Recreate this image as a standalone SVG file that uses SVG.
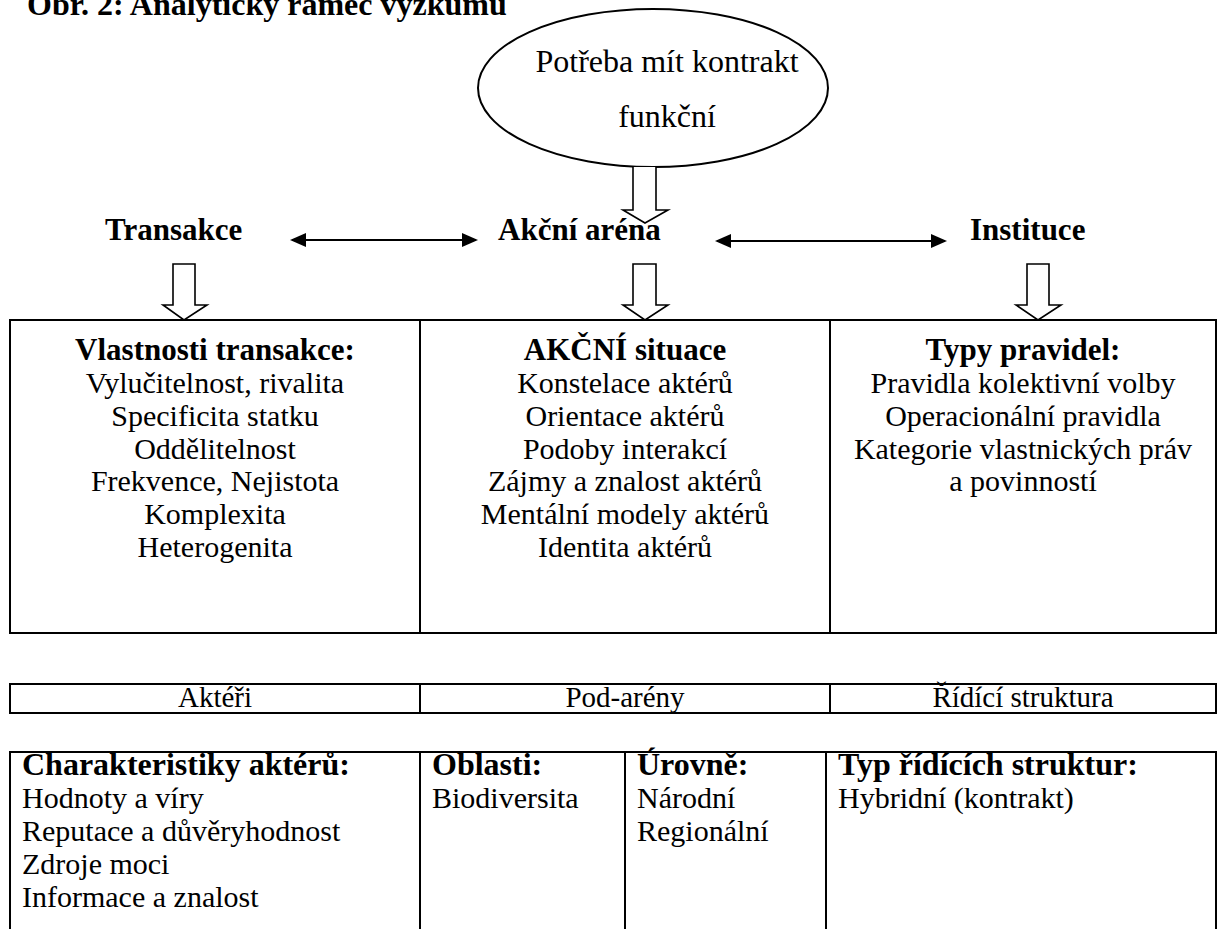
<svg xmlns="http://www.w3.org/2000/svg" width="1227" height="929" viewBox="0 0 1227 929">
<style>
text{font-family:"Liberation Serif","Times New Roman",serif;fill:#000}
.t{font-size:32px;font-weight:bold}
.h{font-size:31px;font-weight:bold}
.e{font-size:32px;text-anchor:middle}
.b{font-size:30px}
.bb{font-size:31px;font-weight:bold}
.r{font-size:29px}
.s{font-size:30px}
.sb{font-size:32px;font-weight:bold}
.c{text-anchor:middle}
.ln{stroke:#000;stroke-width:2;fill:none}
.blk{stroke:#000;stroke-width:1.6;fill:#fff;stroke-linejoin:miter}
</style>
<defs>
<marker id="ah" viewBox="0 0 16 14" refX="14" refY="7" markerWidth="16" markerHeight="14" markerUnits="userSpaceOnUse" orient="auto-start-reverse">
<path d="M0,0 L16,7 L0,14 Z" fill="#000"/>
</marker>
</defs>
<rect width="1227" height="929" fill="#fff"/>
<text class="t" x="27" y="15">Obr. 2: Analytický rámec výzkumu</text>

<g id="need">
<ellipse cx="653" cy="88" rx="175" ry="79" fill="#fff" stroke="#000" stroke-width="2"/>
<text class="e" x="667" y="72">Potřeba mít kontrakt</text>
<text class="e" x="667" y="127">funkční</text>
</g>

<g id="transakce"><text class="h" x="105" y="240">Transakce</text></g>
<g id="arena"><text class="h" x="498" y="240">Akční aréna</text></g>
<g id="instituce"><text class="h" x="970" y="240">Instituce</text></g>

<g id="connectors">
<line class="ln" x1="292" y1="240" x2="476" y2="240" marker-start="url(#ah)" marker-end="url(#ah)"/>
<line class="ln" x1="717" y1="241" x2="945" y2="241" marker-start="url(#ah)" marker-end="url(#ah)"/>
<path class="blk" d="M633,167 V210 H623 L645,223 L668,210 H656 V167"/>
<path class="blk" d="M173,264 H195 V305 H207 L184,320 L163,305 H173 Z"/>
<path class="blk" d="M633,264 H656 V305 H668 L645,320 L623,305 H633 Z"/>
<path class="blk" d="M1027,264 H1049 V305 H1061 L1038,320 L1016,305 H1027 Z"/>
</g>

<g id="table1">
<rect class="ln" x="10" y="320" width="1206" height="313"/>
<line class="ln" x1="420" y1="320" x2="420" y2="633"/>
<line class="ln" x1="830" y1="320" x2="830" y2="633"/>
</g>
<g id="vlastnosti">
<text class="bb c" x="215" y="360">Vlastnosti transakce:</text>
<text class="b c" x="215" y="393">Vylučitelnost, rivalita</text>
<text class="b c" x="215" y="426">Specificita statku</text>
<text class="b c" x="215" y="459">Oddělitelnost</text>
<text class="b c" x="215" y="491">Frekvence, Nejistota</text>
<text class="b c" x="215" y="524">Komplexita</text>
<text class="b c" x="215" y="557">Heterogenita</text>
</g>
<g id="situace">
<text class="bb c" x="625" y="360">AKČNÍ situace</text>
<text class="b c" x="625" y="393">Konstelace aktérů</text>
<text class="b c" x="625" y="426">Orientace aktérů</text>
<text class="b c" x="625" y="459">Podoby interakcí</text>
<text class="b c" x="625" y="491">Zájmy a znalost aktérů</text>
<text class="b c" x="625" y="524">Mentální modely aktérů</text>
<text class="b c" x="625" y="557">Identita aktérů</text>
</g>
<g id="pravidla">
<text class="bb c" x="1023" y="360">Typy pravidel:</text>
<text class="b c" x="1023" y="393">Pravidla kolektivní volby</text>
<text class="b c" x="1023" y="426">Operacionální pravidla</text>
<text class="b c" x="1023" y="459">Kategorie vlastnických práv</text>
<text class="b c" x="1023" y="491">a povinností</text>
</g>

<g id="table2">
<rect class="ln" x="10" y="684" width="1206" height="29"/>
<line class="ln" x1="420" y1="684" x2="420" y2="713"/>
<line class="ln" x1="830" y1="684" x2="830" y2="713"/>
<text class="r c" x="215" y="707">Aktéři</text>
<text class="r c" x="625" y="707">Pod-arény</text>
<text class="r c" x="1023" y="707">Řídící struktura</text>
</g>

<g id="table3">
<path class="ln" d="M10,940 V752 H1216 V940"/>
<line class="ln" x1="420" y1="752" x2="420" y2="940"/>
<line class="ln" x1="625" y1="752" x2="625" y2="940"/>
<line class="ln" x1="826" y1="752" x2="826" y2="940"/>
</g>
<g id="aktery">
<text class="sb" x="22" y="775">Charakteristiky aktérů:</text>
<text class="s" x="22" y="808">Hodnoty a víry</text>
<text class="s" x="22" y="841">Reputace a důvěryhodnost</text>
<text class="s" x="22" y="874">Zdroje moci</text>
<text class="s" x="22" y="907">Informace a znalost</text>
</g>
<g id="oblasti">
<text class="sb" x="432" y="775">Oblasti:</text>
<text class="s" x="432" y="808">Biodiversita</text>
</g>
<g id="urovne">
<text class="sb" x="637" y="775">Úrovně:</text>
<text class="s" x="637" y="808">Národní</text>
<text class="s" x="637" y="841">Regionální</text>
</g>
<g id="typ">
<text class="sb" x="838" y="775">Typ řídících struktur:</text>
<text class="s" x="838" y="808">Hybridní (kontrakt)</text>
</g>
</svg>
